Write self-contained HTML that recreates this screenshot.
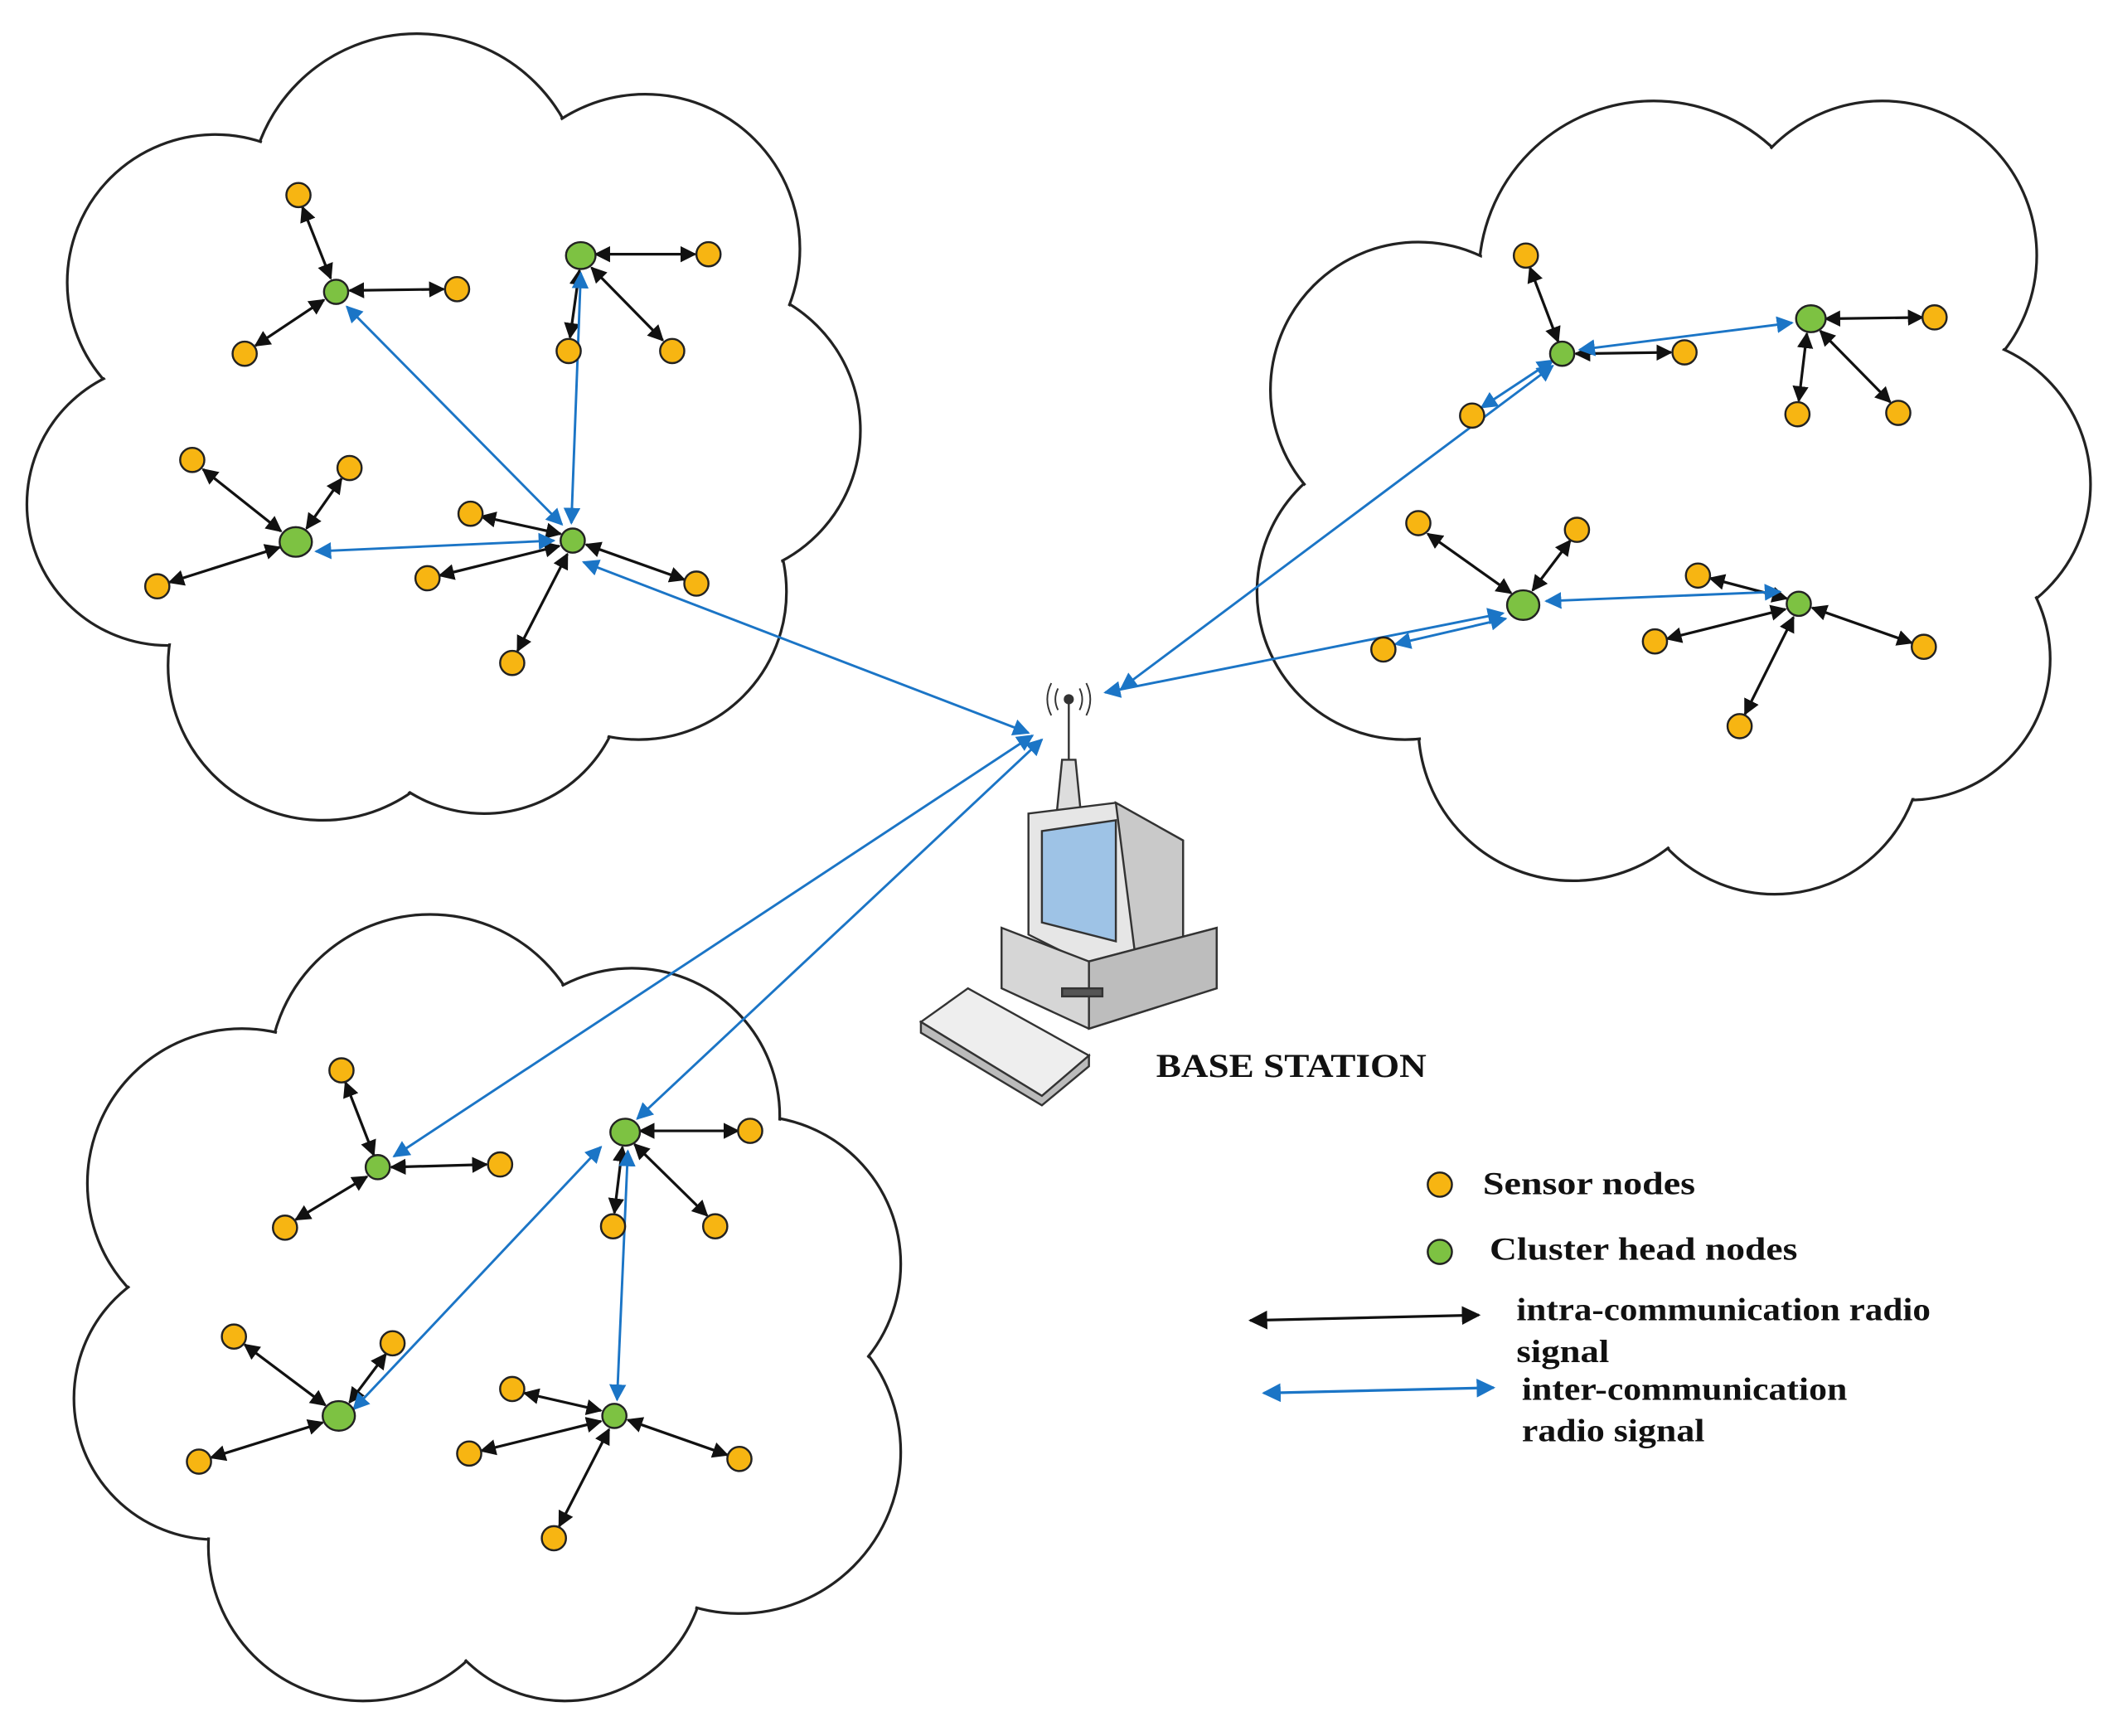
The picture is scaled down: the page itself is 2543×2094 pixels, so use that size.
<!DOCTYPE html>
<html><head><meta charset="utf-8"><style>
html,body{margin:0;padding:0;background:#fff;}
svg{display:block;}
text{font-family:"Liberation Serif",serif;font-weight:bold;fill:#111;}
</style></head><body>
<svg width="2543" height="2094" viewBox="0 0 1568 1291" xmlns="http://www.w3.org/2000/svg">
<defs>
<marker id="ak" viewBox="0 0 10 10" refX="9" refY="5" markerWidth="6" markerHeight="6" orient="auto-start-reverse" markerUnits="strokeWidth"><path d="M0,0 L10,5 L0,10 z" fill="#111"/></marker>
<marker id="ab" viewBox="0 0 10 10" refX="9" refY="5" markerWidth="7" markerHeight="7" orient="auto-start-reverse" markerUnits="strokeWidth"><path d="M0,0 L10,5 L0,10 z" fill="#1b75c6"/></marker>
<marker id="akL" viewBox="0 0 10 10" refX="9" refY="5" markerWidth="7" markerHeight="7" orient="auto-start-reverse" markerUnits="strokeWidth"><path d="M0,0 L10,5 L0,10 z" fill="#111"/></marker>
</defs>
<rect width="1568" height="1291" fill="#fff"/>

<g stroke="#222" stroke-width="2" fill="#fff">
<circle cx="310" cy="150" r="125"/><circle cx="160" cy="210" r="110"/><circle cx="125" cy="375" r="105"/>
<circle cx="240" cy="495" r="115"/><circle cx="360" cy="500" r="105"/><circle cx="475" cy="440" r="110"/>
<circle cx="530" cy="320" r="110"/><circle cx="480" cy="185" r="115"/><circle cx="330" cy="330" r="200"/>
</g>
<g fill="#fff">
<circle cx="310" cy="150" r="123.5"/><circle cx="160" cy="210" r="108.5"/><circle cx="125" cy="375" r="103.5"/>
<circle cx="240" cy="495" r="113.5"/><circle cx="360" cy="500" r="103.5"/><circle cx="475" cy="440" r="108.5"/>
<circle cx="530" cy="320" r="108.5"/><circle cx="480" cy="185" r="113.5"/><circle cx="330" cy="330" r="198.5"/>
</g>
<g stroke="#222" stroke-width="2" fill="#fff">
<circle cx="1230" cy="205" r="130"/><circle cx="1400" cy="190" r="115"/><circle cx="1445" cy="360" r="110"/>
<circle cx="1420" cy="490" r="105"/><circle cx="1320" cy="555" r="110"/><circle cx="1170" cy="540" r="115"/>
<circle cx="1045" cy="440" r="110"/><circle cx="1055" cy="290" r="110"/><circle cx="1245" cy="370" r="210"/>
</g>
<g fill="#fff">
<circle cx="1230" cy="205" r="128.5"/><circle cx="1400" cy="190" r="113.5"/><circle cx="1445" cy="360" r="108.5"/>
<circle cx="1420" cy="490" r="103.5"/><circle cx="1320" cy="555" r="108.5"/><circle cx="1170" cy="540" r="113.5"/>
<circle cx="1045" cy="440" r="108.5"/><circle cx="1055" cy="290" r="108.5"/><circle cx="1245" cy="370" r="208.5"/>
</g>
<g stroke="#222" stroke-width="2" fill="#fff">
<circle cx="320" cy="800" r="120"/><circle cx="180" cy="880" r="115"/><circle cx="160" cy="1040" r="105"/>
<circle cx="270" cy="1150" r="115"/><circle cx="420" cy="1160" r="105"/><circle cx="550" cy="1080" r="120"/>
<circle cx="560" cy="940" r="110"/><circle cx="470" cy="830" r="110"/><circle cx="360" cy="980" r="200"/>
</g>
<g fill="#fff">
<circle cx="320" cy="800" r="118.5"/><circle cx="180" cy="880" r="113.5"/><circle cx="160" cy="1040" r="103.5"/>
<circle cx="270" cy="1150" r="113.5"/><circle cx="420" cy="1160" r="103.5"/><circle cx="550" cy="1080" r="118.5"/>
<circle cx="560" cy="940" r="108.5"/><circle cx="470" cy="830" r="108.5"/><circle cx="360" cy="980" r="198.5"/>
</g>

<g stroke="#111" stroke-width="2" marker-start="url(#ak)" marker-end="url(#ak)">
<line x1="246" y1="207" x2="225" y2="154"/><line x1="260" y1="216" x2="330" y2="215"/><line x1="241" y1="223" x2="190" y2="257"/>
<line x1="443" y1="189" x2="517" y2="189"/><line x1="440" y1="199" x2="493" y2="253"/><line x1="431" y1="201" x2="424" y2="251"/>
<line x1="209" y1="395" x2="151" y2="349"/><line x1="228" y1="393" x2="254" y2="356"/><line x1="208" y1="407" x2="126" y2="433"/>
<line x1="417" y1="397" x2="358" y2="384"/><line x1="416" y1="406" x2="327" y2="428"/><line x1="436" y1="405" x2="509" y2="431"/><line x1="422" y1="412" x2="385" y2="484"/>
<line x1="1159" y1="254" x2="1138" y2="199"/><line x1="1172" y1="263" x2="1243" y2="262"/>
<line x1="1358" y1="237" x2="1430" y2="236"/><line x1="1344" y1="248" x2="1338" y2="298"/><line x1="1354" y1="246" x2="1406" y2="299"/>
<line x1="1124" y1="441" x2="1062" y2="397"/><line x1="1140" y1="439" x2="1168" y2="402"/>
<line x1="1329" y1="445" x2="1272" y2="430"/><line x1="1328" y1="453" x2="1240" y2="475"/><line x1="1348" y1="452" x2="1422" y2="478"/><line x1="1334" y1="459" x2="1298" y2="531"/>
<line x1="278" y1="859" x2="257" y2="805"/><line x1="291" y1="868" x2="362" y2="866"/><line x1="273" y1="875" x2="220" y2="907"/>
<line x1="476" y1="841" x2="549" y2="841"/><line x1="472" y1="851" x2="526" y2="904"/><line x1="463" y1="853" x2="457" y2="902"/>
<line x1="242" y1="1045" x2="182" y2="1000"/><line x1="260" y1="1043" x2="287" y2="1007"/><line x1="240" y1="1058" x2="157" y2="1084"/>
<line x1="447" y1="1049" x2="390" y2="1036"/><line x1="447" y1="1057" x2="358" y2="1079"/><line x1="467" y1="1056" x2="541" y2="1082"/><line x1="453" y1="1063" x2="416" y2="1135"/>
</g>

<g stroke="#1b75c6" stroke-width="1.8" marker-start="url(#ab)" marker-end="url(#ab)">
<line x1="418" y1="390" x2="258" y2="228"/>
<line x1="425" y1="389" x2="432" y2="203"/>
<line x1="412" y1="402" x2="235" y2="410"/>
<line x1="434" y1="418" x2="765" y2="545"/>
<line x1="1175" y1="260" x2="1333" y2="240"/>
<line x1="1155" y1="272" x2="834" y2="512"/>
<line x1="1102" y1="303" x2="1155" y2="268"/>
<line x1="1150" y1="447" x2="1324" y2="440"/>
<line x1="1118" y1="456" x2="822" y2="515"/>
<line x1="1038" y1="479" x2="1120" y2="460"/>
<line x1="768" y1="547" x2="293" y2="860"/>
<line x1="775" y1="550" x2="474" y2="832"/>
<line x1="447" y1="853" x2="263" y2="1048"/>
<line x1="467" y1="856" x2="459" y2="1041"/>
</g>

<g fill="#f7b512" stroke="#222" stroke-width="1.5">
<circle cx="222" cy="145" r="9"/><circle cx="340" cy="215" r="9"/><circle cx="182" cy="263" r="9"/>
<circle cx="527" cy="189" r="9"/><circle cx="500" cy="261" r="9"/><circle cx="423" cy="261" r="9"/>
<circle cx="143" cy="342" r="9"/><circle cx="260" cy="348" r="9"/><circle cx="117" cy="436" r="9"/>
<circle cx="350" cy="382" r="9"/><circle cx="318" cy="430" r="9"/><circle cx="518" cy="434" r="9"/><circle cx="381" cy="493" r="9"/>
<circle cx="1135" cy="190" r="9"/><circle cx="1253" cy="262" r="9"/><circle cx="1095" cy="309" r="9"/>
<circle cx="1439" cy="236" r="9"/><circle cx="1337" cy="308" r="9"/><circle cx="1412" cy="307" r="9"/>
<circle cx="1055" cy="389" r="9"/><circle cx="1173" cy="394" r="9"/><circle cx="1029" cy="483" r="9"/>
<circle cx="1263" cy="428" r="9"/><circle cx="1231" cy="477" r="9"/><circle cx="1431" cy="481" r="9"/><circle cx="1294" cy="540" r="9"/>
<circle cx="254" cy="796" r="9"/><circle cx="372" cy="866" r="9"/><circle cx="212" cy="913" r="9"/>
<circle cx="558" cy="841" r="9"/><circle cx="456" cy="912" r="9"/><circle cx="532" cy="912" r="9"/>
<circle cx="174" cy="994" r="9"/><circle cx="292" cy="999" r="9"/><circle cx="148" cy="1087" r="9"/>
<circle cx="381" cy="1033" r="9"/><circle cx="349" cy="1081" r="9"/><circle cx="550" cy="1085" r="9"/><circle cx="412" cy="1144" r="9"/>
<circle cx="1071" cy="881" r="9"/>
</g>
<g fill="#7dc242" stroke="#222" stroke-width="1.5">
<circle cx="250" cy="217" r="9"/><ellipse cx="432" cy="190" rx="11" ry="10"/><ellipse cx="220" cy="403" rx="12" ry="11"/><circle cx="426" cy="402" r="9"/>
<circle cx="1162" cy="263" r="9"/><ellipse cx="1347" cy="237" rx="11" ry="10"/><ellipse cx="1133" cy="450" rx="12" ry="11"/><circle cx="1338" cy="449" r="9"/>
<circle cx="281" cy="868" r="9"/><ellipse cx="465" cy="842" rx="11" ry="10"/><ellipse cx="252" cy="1053" rx="12" ry="11"/><circle cx="457" cy="1053" r="9"/>
<circle cx="1071" cy="931" r="9"/>
</g>

<g stroke="#333" stroke-width="1.5">
<path d="M786 605 L790 565 L800 565 L804 605 Z" fill="#ddd"/>
<line x1="795" y1="565" x2="795" y2="522"/>
<circle cx="795" cy="520" r="3" fill="#333"/>
<path d="M787 512 Q783 520 787 528 M803 512 Q807 520 803 528 M782 508 Q776 520 782 532 M808 508 Q814 520 808 532" fill="none" stroke-width="1.2"/>
<path d="M765 605 L830 597 L880 625 L880 705 L815 720 L765 695 Z" fill="#e6e6e6"/>
<path d="M830 597 L880 625 L880 705 L845 715 Z" fill="#c9c9c9"/>
<path d="M775 618 L830 610 L830 700 L775 686 Z" fill="#9ec3e6"/>
<path d="M745 690 L810 715 L905 690 L905 735 L810 765 L745 735 Z" fill="#d6d6d6"/>
<path d="M810 715 L905 690 L905 735 L810 765 Z" fill="#bdbdbd"/>
<rect x="790" y="735" width="30" height="6" fill="#555"/>
<path d="M685 760 L720 735 L810 785 L775 815 Z" fill="#eee"/>
<path d="M685 760 L685 768 L775 822 L810 793 L810 785 L775 815 Z" fill="#bbb"/>
</g>
<text x="860" y="801" font-size="25" textLength="201" lengthAdjust="spacingAndGlyphs">BASE STATION</text>

<text x="1103" y="888" font-size="24" textLength="158" lengthAdjust="spacingAndGlyphs">Sensor nodes</text>
<text x="1108" y="937" font-size="24" textLength="229" lengthAdjust="spacingAndGlyphs">Cluster head nodes</text>
<line x1="930" y1="982" x2="1100" y2="978" stroke="#111" stroke-width="2" marker-start="url(#akL)" marker-end="url(#akL)"/>
<text x="1128" y="982" font-size="24" textLength="308" lengthAdjust="spacingAndGlyphs">intra-communication radio</text>
<text x="1128" y="1013" font-size="24" textLength="69" lengthAdjust="spacingAndGlyphs">signal</text>
<line x1="940" y1="1036" x2="1111" y2="1032" stroke="#1b75c6" stroke-width="2" marker-start="url(#ab)" marker-end="url(#ab)"/>
<text x="1132" y="1041" font-size="24" textLength="242" lengthAdjust="spacingAndGlyphs">inter-communication</text>
<text x="1132" y="1072" font-size="24" textLength="136" lengthAdjust="spacingAndGlyphs">radio signal</text>
</svg>
</body></html>
